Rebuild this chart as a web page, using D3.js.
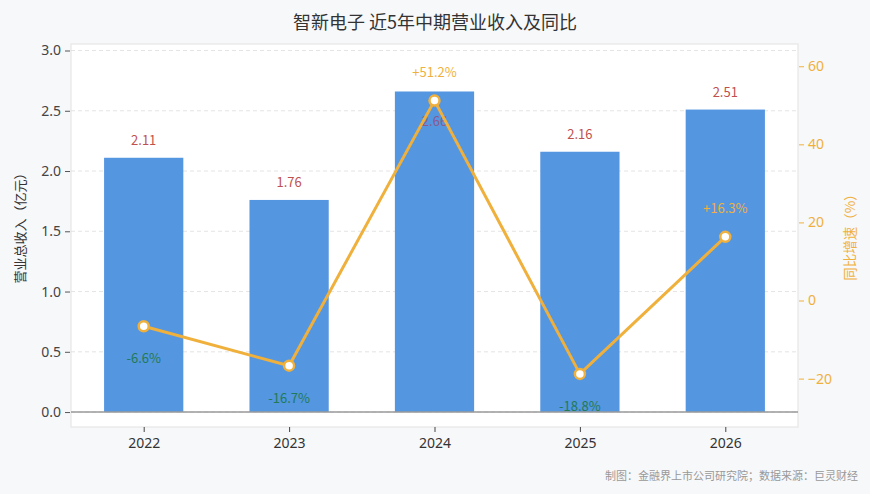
<!DOCTYPE html>
<html><head><meta charset="utf-8">
<script src="https://cdn.jsdelivr.net/npm/d3@7"></script>
<style>body{margin:0;background:#f7f8fa;} svg{display:block;font-family:"Noto Sans CJK SC","Noto Sans",sans-serif;}</style>
</head><body><svg id="c" width="870" height="494"></svg>
<script>
const years = ["2022","2023","2024","2025","2026"];
const revenue = [2.11, 1.76, 2.66, 2.16, 2.51];
const yoy = [-6.6, -16.7, 51.2, -18.8, 16.3];
const leftTicks = [0.0, 0.5, 1.0, 1.5, 2.0, 2.5, 3.0];
const rightTicks = [-20, 0, 20, 40, 60];

const svg = d3.select("#c");
const L = 71, R = 798, T = 44, B = 427;
const x = d3.scaleLinear().domain([-0.5, 4.5]).range([L, R]);
const yL = d3.scaleLinear().domain([-0.124, 3.054]).range([B, T]);
const yR = d3.scaleLinear().domain([-32.4, 65.7]).range([B, T]);
const barW = 0.545;
const barColor = "#5596e0", lineColor = "#f0b03c";

svg.append("rect").attr("x", L).attr("y", T).attr("width", R - L).attr("height", B - T)
  .attr("fill", "#fff").attr("stroke", "#e6e6e6").attr("stroke-width", 1.2);

// grid
svg.append("g").selectAll("line").data(leftTicks).join("line")
  .attr("x1", L).attr("x2", R).attr("y1", d => yL(d)).attr("y2", d => yL(d))
  .attr("stroke", "#dddddd").attr("stroke-dasharray", "4,3").attr("stroke-width", 0.8);

// bars
svg.append("g").selectAll("rect").data(revenue).join("rect")
  .attr("x", (d, i) => x(i - barW / 2)).attr("width", x(barW) - x(0))
  .attr("y", d => yL(d)).attr("height", d => yL(0) - yL(d)).attr("fill", barColor);

// baseline
svg.append("line").attr("x1", L).attr("x2", R).attr("y1", yL(0)).attr("y2", yL(0))
  .attr("stroke", "#9a9a9a").attr("stroke-width", 1.5);

// bar labels
const labelOffset = [-13, -13, 35, -13, -13];
svg.append("g").selectAll("text").data(revenue).join("text")
  .attr("x", (d, i) => x(i)).attr("y", (d, i) => yL(d) + labelOffset[i])
  .attr("text-anchor", "middle").attr("font-size", 13)
  .attr("fill", (d, i) => i === 2 ? "#8a5a8e" : "#c0504d")
  .text(d => d.toFixed(2));

// line
const line = d3.line().x((d, i) => x(i)).y(d => yR(d));
svg.append("path").datum(yoy).attr("d", line).attr("fill", "none")
  .attr("stroke", lineColor).attr("stroke-width", 3).attr("stroke-linejoin", "round");
svg.append("g").selectAll("circle").data(yoy).join("circle")
  .attr("cx", (d, i) => x(i)).attr("cy", d => yR(d)).attr("r", 5)
  .attr("fill", "#fff").attr("stroke", lineColor).attr("stroke-width", 2.5);

// yoy labels
svg.append("g").selectAll("text").data(yoy).join("text")
  .attr("x", (d, i) => x(i)).attr("y", d => d >= 0 ? yR(d) - 24 : yR(d) + 37)
  .attr("text-anchor", "middle").attr("font-size", 13)
  .attr("fill", d => d >= 0 ? "#f0b03c" : "#1f7a55")
  .text(d => (d >= 0 ? "+" : "") + d.toFixed(1) + "%");

// left axis
const gl = svg.append("g").attr("transform", `translate(${L - 1},0)`)
  .call(d3.axisLeft(yL).tickValues(leftTicks).tickFormat(d3.format(".1f")).tickSize(5).tickPadding(4));
gl.select(".domain").remove();
gl.selectAll("line").attr("stroke", "#555");
gl.selectAll("text").attr("font-size", 14).attr("fill", "#444").attr("font-family", "'Noto Sans','DejaVu Sans',sans-serif");

// right axis
const gr = svg.append("g").attr("transform", `translate(${R + 1},0)`)
  .call(d3.axisRight(yR).tickValues(rightTicks).tickSize(5).tickPadding(4));
gr.select(".domain").remove();
gr.selectAll("line").attr("stroke", "#f0b03c");
gr.selectAll("text").attr("font-size", 14).attr("fill", "#f0b03c").attr("font-family", "'Noto Sans','DejaVu Sans',sans-serif");

// x axis
const gx = svg.append("g").attr("transform", `translate(0,${B})`)
  .call(d3.axisBottom(x).tickValues(d3.range(years.length)).tickFormat(i => years[i]).tickSize(5).tickPadding(6));
gx.select(".domain").remove();
gx.selectAll("line").attr("stroke", "#444");
gx.selectAll("text").attr("font-size", 14).attr("fill", "#333").attr("font-family", "'Noto Sans','DejaVu Sans',sans-serif");

// titles
svg.append("text").attr("x", 435).attr("y", 29).attr("text-anchor", "middle")
  .attr("font-size", 18).attr("font-weight", 400).attr("fill", "#333")
  .text("智新电子 近5年中期营业收入及同比");
svg.append("text").attr("transform", "translate(25,225) rotate(-90)").attr("text-anchor", "middle")
  .attr("font-size", 13).attr("fill", "#333").text("营业总收入（亿元）");
svg.append("text").attr("transform", "translate(855,234) rotate(-90)").attr("text-anchor", "middle")
  .attr("font-size", 13.5).attr("fill", "#f0b03c").text("同比增速（%）");
svg.append("text").attr("x", 858).attr("y", 480).attr("text-anchor", "end")
  .attr("font-size", 11).attr("fill", "#999").text("制图：金融界上市公司研究院；数据来源：巨灵财经");
</script></body></html>
